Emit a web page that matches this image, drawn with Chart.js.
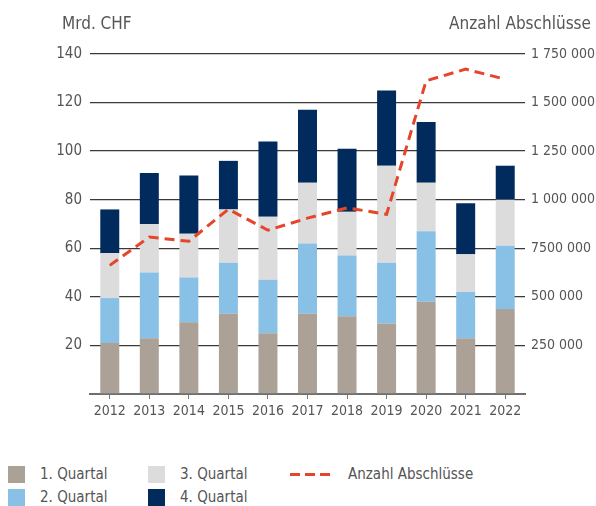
<!DOCTYPE html>
<html>
<head>
<meta charset="utf-8">
<script src="https://cdn.jsdelivr.net/npm/chart.js@4/dist/chart.umd.min.js"></script>
<style>
  body { margin: 0; background: #fff; font-family: 'DejaVu Sans Condensed', sans-serif; color: #555; }
  #wrap { position: relative; width: 596px; height: 506px; }
  #chartBox { position: absolute; left: 0; top: 0; width: 596px; height: 430px; }
  .axis-title { position: absolute; top: 13px; font-size: 17px; color: #555; }
  .legend-item { position: absolute; font-size: 15px; color: #555; display: flex; align-items: center; }
  .swatch { width: 17px; height: 17px; margin-right: 15px; }
  .dash { width: 40px; height: 3px; margin-right: 18px;
          background: repeating-linear-gradient(to right, #e5452a 0 10px, transparent 10px 15px); }
</style>
</head>
<body>
<div id="wrap">
  <div id="chartBox"><canvas id="quarterChart"></canvas></div>
  <div class="axis-title" style="left:62px;">Mrd. CHF</div>
  <div class="axis-title" style="right:5px;">Anzahl Abschlüsse</div>
  <div id="legend"></div>
</div>
<script>
// data
const years = ['2012', '2013', '2014', '2015', '2016', '2017', '2018', '2019', '2020', '2021', '2022'];
const q1 = [21, 23, 29.5, 33, 25, 33, 32, 29, 38, 23, 35];
const q2 = [18.5, 27, 18.5, 21, 22, 29, 25, 25, 29, 19, 26];
const q3 = [18.5, 20, 18, 22, 26, 25, 18, 40, 20, 15.5, 19];
const q4 = [18, 21, 24, 20, 31, 30, 26, 31, 25, 21, 14];
const deals = [662000, 808000, 786000, 951000, 843000, 905000, 958000, 925000, 1612000, 1672000, 1620000];

const leftTicks = ['', '20', '40', '60', '80', '100', '120', '140'];
const rightTicks = ['', '250 000', '500 000', '7500 000', '1 000 000', '1 250 000', '1 500 000', '1 750 000'];

const quarterLabels = ['1. Quartal', '2. Quartal', '3. Quartal', '4. Quartal'];
const quarterColors = ['#aba197', '#89c0e5', '#dcdcdc', '#002b5c'];
const lineLabel = 'Anzahl Abschlüsse';
const lineColor = '#e5452a';

Chart.defaults.font.family = "'DejaVu Sans Condensed', sans-serif";
Chart.defaults.color = '#555';

const quarterData = [q1, q2, q3, q4];
const barSets = quarterData.map((vals, i) => ({
    type: 'bar',
    label: quarterLabels[i],
    data: vals,
    backgroundColor: quarterColors[i],
    borderWidth: 0,
    yAxisID: 'y',
    order: 1,
    barPercentage: 0.48,
    categoryPercentage: 1
}));

const ctx = document.getElementById('quarterChart').getContext('2d');
new Chart(ctx, {
    data: {
        labels: years,
        datasets: [
            ...barSets,
            {
                type: 'line',
                label: lineLabel,
                data: deals,
                borderColor: lineColor,
                borderWidth: 3,
                borderDash: [10, 6],
                pointRadius: 0,
                tension: 0,
                fill: false,
                yAxisID: 'y1',
                order: 0
            }
        ]
    },
    options: {
        responsive: true,
        maintainAspectRatio: false,
        animation: false,
        layout: { padding: { top: 54, left: 0, right: 0, bottom: 0 } },
        plugins: { legend: { display: false }, tooltip: { enabled: false } },
        scales: {
            x: {
                stacked: true,
                grid: { display: true, drawOnChartArea: false, offset: false, color: '#777', tickLength: 5 },
                border: { display: true, color: '#6f6f6f', width: 2 },
                ticks: { font: { size: 14 }, color: '#555', padding: 4, maxRotation: 0 },
                afterFit: (s) => { s.height = 36; }
            },
            y: {
                stacked: true,
                position: 'left',
                min: 0,
                max: 140,
                grid: { color: '#3a3a3a', lineWidth: 1.3, drawTicks: false },
                border: { display: false },
                ticks: {
                    stepSize: 20,
                    padding: 8,
                    font: { size: 15 },
                    color: '#555',
                    callback: (v) => leftTicks[Math.round(v / 20)]
                },
                afterFit: (s) => { s.width = 90; }
            },
            y1: {
                position: 'right',
                min: 0,
                max: 1750000,
                grid: { display: false, drawTicks: false },
                border: { display: false },
                ticks: {
                    stepSize: 250000,
                    padding: 6,
                    font: { size: 14 },
                    color: '#555',
                    callback: (v) => rightTicks[Math.round(v / 250000)]
                },
                afterFit: (s) => { s.width = 71; }
            }
        }
    }
});

// legend laid out like the original: two rows, columns 1/3 and 2/4
const legendEl = document.getElementById('legend');
const legendPos = [[8, 465], [8, 488], [148, 465], [148, 488]];
quarterLabels.forEach((lab, i) => {
    const item = document.createElement('div');
    item.className = 'legend-item';
    item.style.left = legendPos[i][0] + 'px';
    item.style.top = legendPos[i][1] + 'px';
    item.innerHTML = '<span class="swatch" style="background:' + quarterColors[i] + '"></span>' + lab;
    legendEl.appendChild(item);
});
const lineItem = document.createElement('div');
lineItem.className = 'legend-item';
lineItem.style.left = '290px';
lineItem.style.top = '465px';
lineItem.innerHTML = '<span class="dash"></span>' + lineLabel;
legendEl.appendChild(lineItem);
</script>
</body>
</html>
